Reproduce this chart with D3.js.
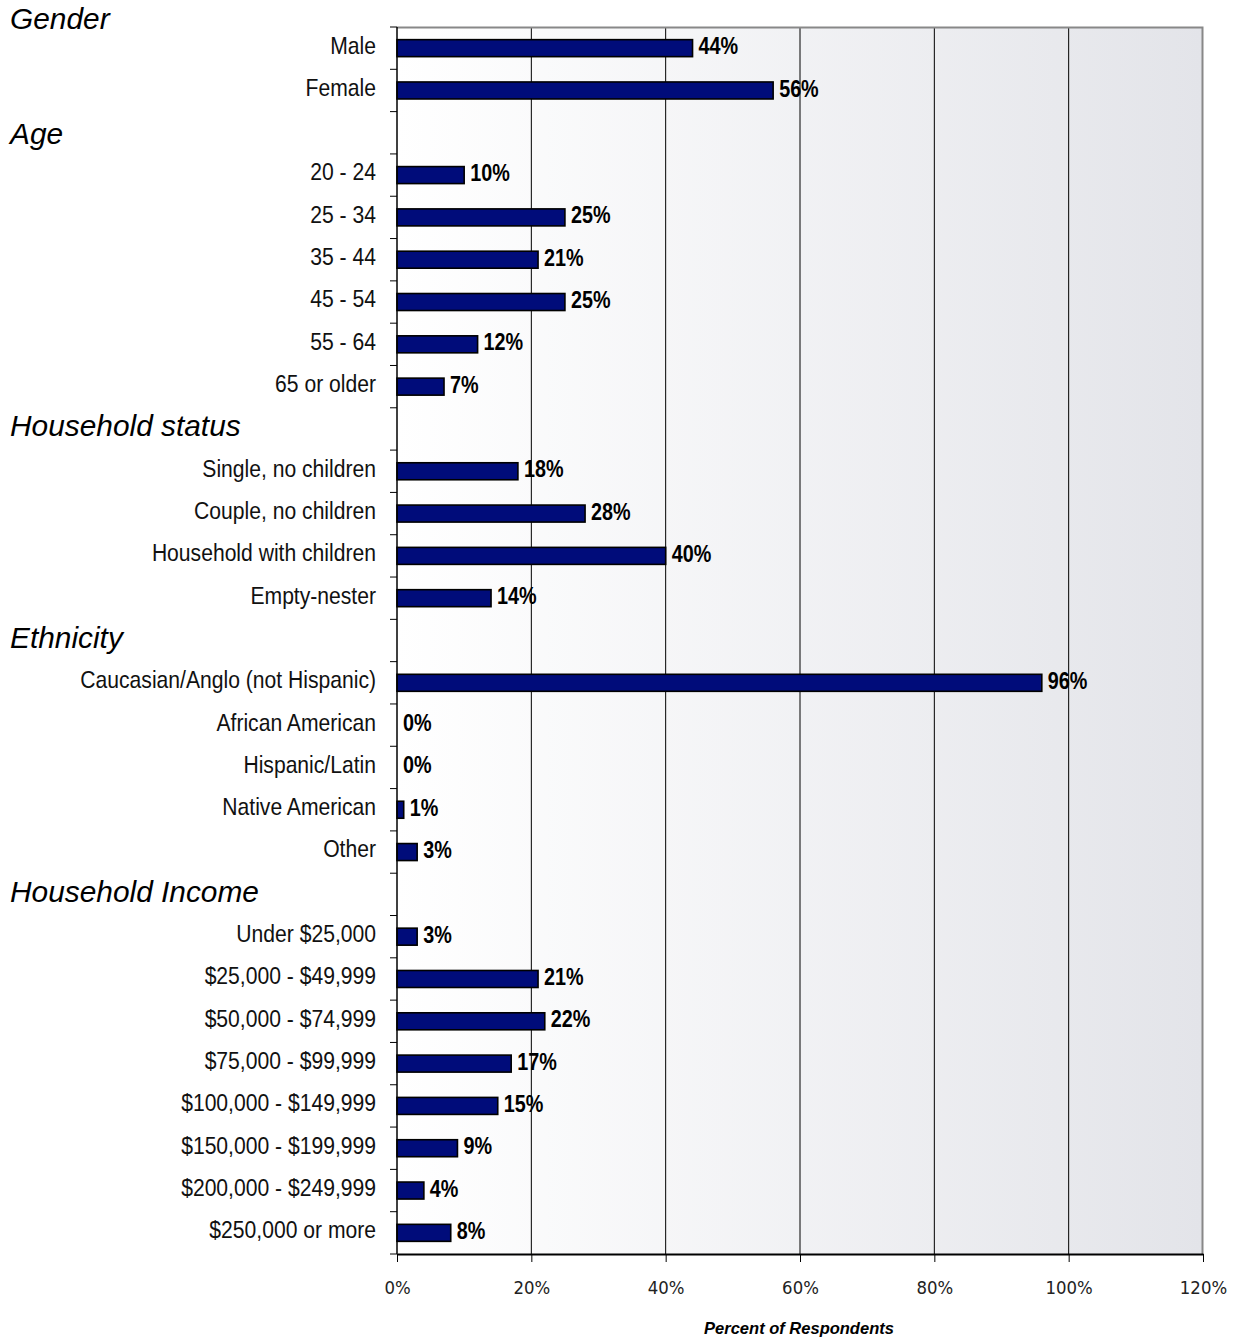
<!DOCTYPE html>
<html><head><meta charset="utf-8">
<script src="https://cdn.jsdelivr.net/npm/d3@7"></script>
<style>body{margin:0;background:#fff}</style>
</head><body><svg id="c" width="1237" height="1339"></svg>
<script>
const categories = ["Male","Female","",
 "20 - 24","25 - 34","35 - 44","45 - 54","55 - 64","65 or older","",
 "Single, no children","Couple, no children","Household with children","Empty-nester","",
 "Caucasian/Anglo (not Hispanic)","African American","Hispanic/Latin","Native American","Other","",
 "Under $25,000","$25,000 - $49,999","$50,000 - $74,999","$75,000 - $99,999","$100,000 - $149,999","$150,000 - $199,999","$200,000 - $249,999","$250,000 or more"];
const values = [44,56,null, 10,25,21,25,12,7,null, 18,28,40,14,null, 96,0,0,1,3,null, 3,21,22,17,15,9,4,8];
const groupHeaders = ["Gender","Age","Household status","Ethnicity","Household Income"];
const groupHeaderRows = [-0.62,2.1,9,14,20];
const tickValues = [0,20,40,60,80,100,120];

const svg = d3.select("#c");
const L=397,R=1203,T=27,B=1254;
const sans = "'Liberation Sans',Arial,sans-serif";
const x = d3.scaleLinear().domain([0,120]).range([L,R]);
const idx = d3.range(categories.length);
const y = d3.scaleBand().domain(idx).range([T,B]).paddingInner(0).paddingOuter(0);
const cy = i => y(i)+y.bandwidth()/2;
const rowCenter = r => T + (r+0.5)*y.bandwidth();

const defs = svg.append("defs");
const g = defs.append("linearGradient").attr("id","bg").attr("x1","0").attr("x2","1").attr("y1","0").attr("y2","0");
g.append("stop").attr("offset","0").attr("stop-color","#ffffff");
g.append("stop").attr("offset","1").attr("stop-color","#e3e4e9");
svg.append("rect").attr("x",L).attr("y",T).attr("width",R-L).attr("height",B-T).attr("fill","url(#bg)");

// gridlines
svg.append("g").selectAll("line").data(tickValues.slice(1,-1)).join("line")
 .attr("x1",d=>x(d)).attr("x2",d=>x(d)).attr("y1",T).attr("y2",B).attr("stroke","#000").attr("stroke-width",1);
// borders top/right
svg.append("path").attr("d",`M${L},${T+0.5}H${R-0.5}V${B}`).attr("fill","none").attr("stroke","#888").attr("stroke-width",2);

// bars
const bh = 17;
svg.append("g").selectAll("rect").data(idx.filter(i=>values[i]!==null && values[i]>0)).join("rect")
 .attr("x",x(0)).attr("y",i=>cy(i)-bh/2).attr("width",i=>x(values[i])-x(0)).attr("height",bh)
 .attr("fill","#000c7a").attr("stroke","#000").attr("stroke-width",1.6);

// value labels
svg.append("g").selectAll("text").data(idx.filter(i=>values[i]!==null)).join("text")
 .attr("transform",i=>`translate(${x(values[i])+6},${cy(i)-2}) scale(0.86,1)`).attr("dy","0.35em")
 .attr("font-family",sans).attr("font-weight","bold").attr("font-size",23).attr("fill","#000")
 .text(i=>values[i]+"%");

// left axis
svg.append("line").attr("x1",L).attr("x2",L).attr("y1",T).attr("y2",B).attr("stroke","#000").attr("stroke-width",1.5);
const bounds = d3.range(categories.length+1).map(i=> i<categories.length ? y(i) : B);
svg.append("g").selectAll("line").data(bounds).join("line")
 .attr("x1",L-7).attr("x2",L).attr("y1",d=>d).attr("y2",d=>d).attr("stroke","#000").attr("stroke-width",1);
svg.append("g").selectAll("text").data(idx.filter(i=>categories[i])).join("text")
 .attr("transform",i=>`translate(376,${cy(i)-3}) scale(0.88,1)`).attr("dy","0.35em").attr("text-anchor","end")
 .attr("font-family",sans).attr("font-size",24).attr("fill","#111").text(i=>categories[i]);

// group headers
svg.append("g").selectAll("text").data(groupHeaders).join("text")
 .attr("transform",(d,k)=>`translate(10,${rowCenter(groupHeaderRows[k])-3}) scale(1.03,1)`).attr("dy","0.35em")
 .attr("font-family",sans).attr("font-style","italic").attr("font-size",29).attr("fill","#000")
 .text(d=>d);

// bottom axis
const xa = d3.axisBottom(x).tickValues(tickValues).tickFormat(d=>d+"%").tickSize(8).tickSizeOuter(0);
const ax = svg.append("g").attr("transform",`translate(0,${B})`).call(xa);
ax.select(".domain").attr("stroke","#000").attr("stroke-width",2);
ax.selectAll(".tick line").attr("stroke","#000");
ax.selectAll(".tick text").attr("font-family","'DejaVu Sans',sans-serif").attr("font-size",18).attr("fill","#222").attr("dy","1.6em")
 .attr("transform","scale(0.92,1)").attr("x",0);

svg.append("text").attr("x",799).attr("y",1334).attr("text-anchor","middle")
 .attr("font-family",sans).attr("font-weight","bold").attr("font-style","italic").attr("font-size",16.5)
 .text("Percent of Respondents");
</script></body></html>
